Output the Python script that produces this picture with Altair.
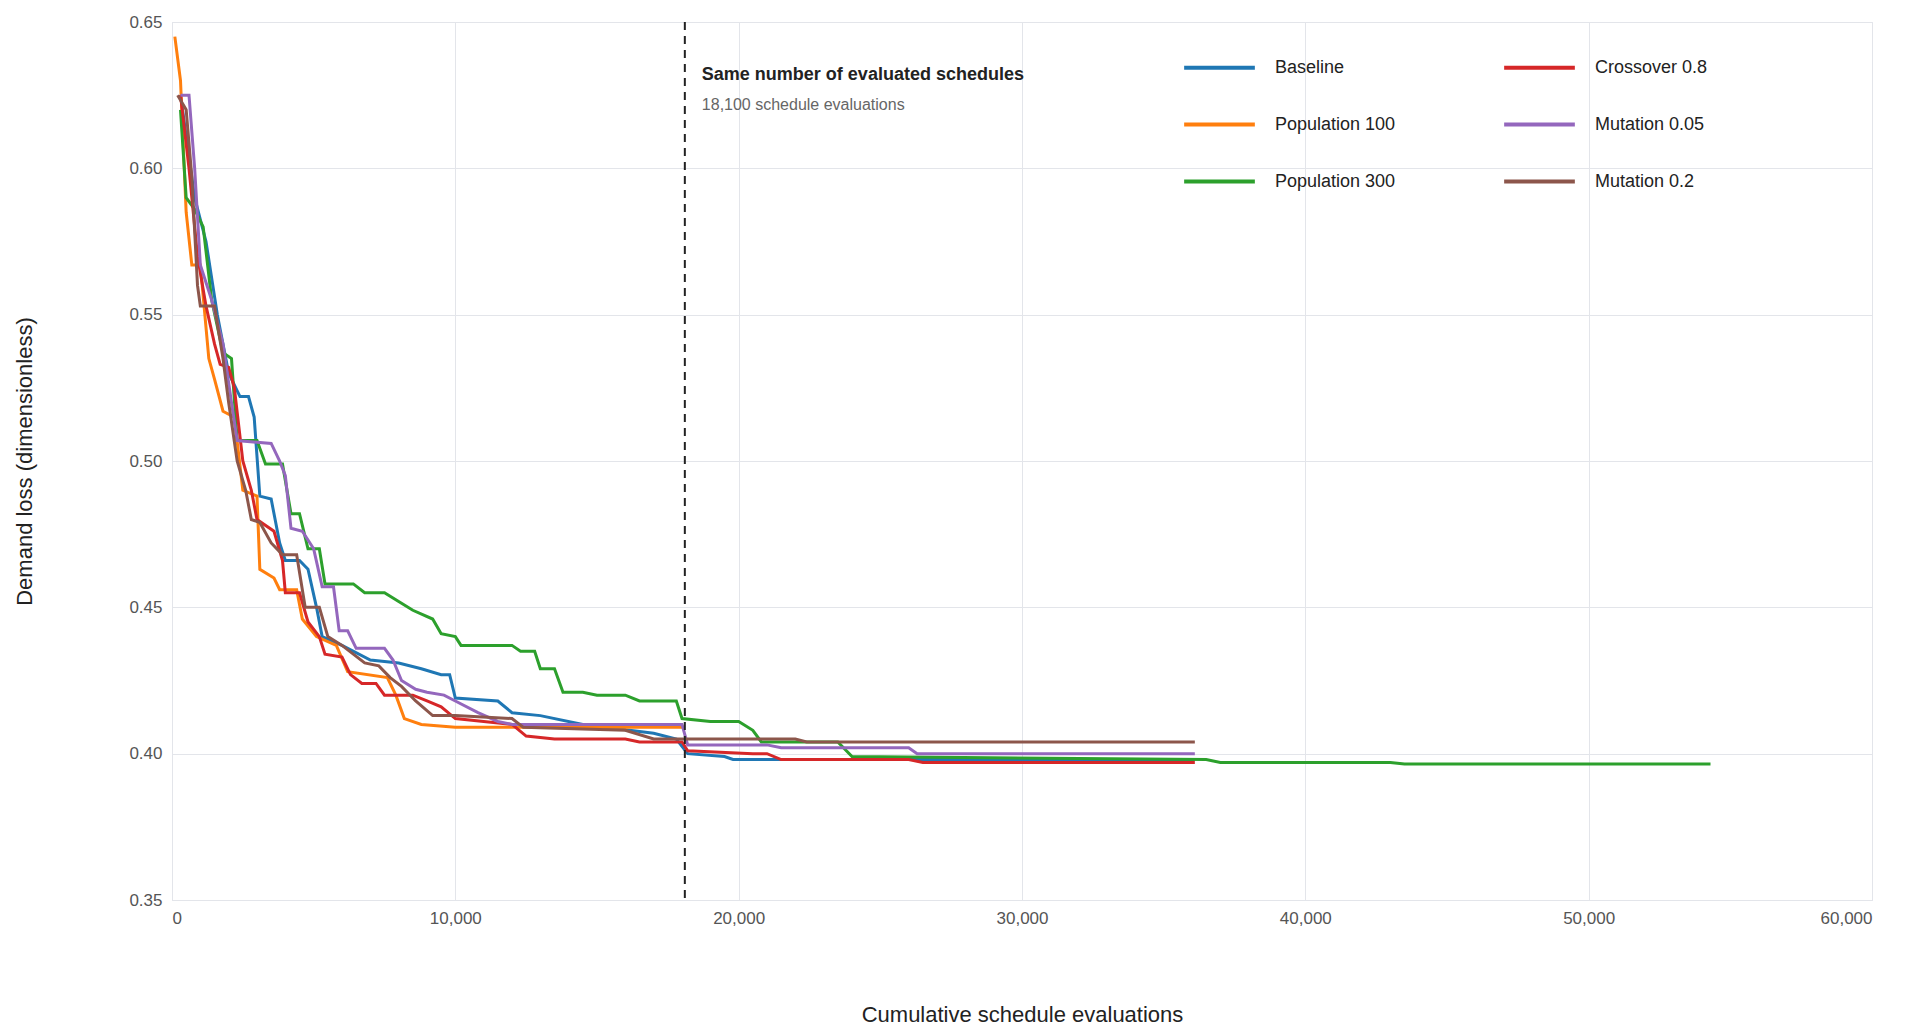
import altair as alt
import pandas as pd

series_names = ["Baseline", "Population 100", "Population 300", "Crossover 0.8", "Mutation 0.05", "Mutation 0.2"]
series_colors = ["#1f77b4", "#ff7f0e", "#2ca02c", "#d62728", "#9467bd", "#8c564b"]

baseline = [(300, 0.625), (800, 0.59), (1200, 0.575), (1600, 0.55), (2000, 0.53), (2400, 0.522), (2700, 0.522),
            (2900, 0.515), (3100, 0.488), (3500, 0.487), (3800, 0.472), (4000, 0.466), (4500, 0.466), (4800, 0.463),
            (5100, 0.45), (5300, 0.44), (6000, 0.437), (7000, 0.432), (8000, 0.431), (8800, 0.429), (9500, 0.427),
            (9800, 0.427), (10000, 0.419), (11500, 0.418), (12000, 0.414), (13000, 0.413), (14500, 0.41),
            (17000, 0.407), (17800, 0.405), (18200, 0.4), (19500, 0.399), (19800, 0.398), (25000, 0.398),
            (36100, 0.398)]
pop100 = [(100, 0.645), (300, 0.63), (500, 0.585), (700, 0.567), (1000, 0.567), (1300, 0.535), (1500, 0.528),
          (1800, 0.517), (2200, 0.515), (2500, 0.49), (3000, 0.488), (3100, 0.463), (3600, 0.46), (3800, 0.456),
          (4400, 0.456), (4600, 0.446), (5100, 0.44), (5800, 0.437), (6200, 0.428), (7600, 0.426), (7900, 0.42),
          (8200, 0.412), (8800, 0.41), (10000, 0.409), (18100, 0.409)]
pop300 = [(300, 0.62), (500, 0.59), (800, 0.586), (1100, 0.58), (1400, 0.555), (1800, 0.537), (2100, 0.535),
          (2300, 0.507), (3000, 0.507), (3300, 0.499), (3900, 0.499), (4200, 0.482), (4500, 0.482), (4800, 0.47),
          (5200, 0.47), (5400, 0.458), (6400, 0.458), (6800, 0.455), (7500, 0.455), (8000, 0.452), (8500, 0.449),
          (9200, 0.446), (9500, 0.441), (10000, 0.44), (10200, 0.437), (12000, 0.437), (12300, 0.435),
          (12800, 0.435), (13000, 0.429), (13500, 0.429), (13800, 0.421), (14500, 0.421), (15000, 0.42),
          (16000, 0.42), (16500, 0.418), (17800, 0.418), (18000, 0.412), (19000, 0.411), (20000, 0.411),
          (20500, 0.408), (20800, 0.404), (23500, 0.404), (24000, 0.399), (36500, 0.398), (37000, 0.397),
          (43000, 0.397), (43500, 0.3965), (54300, 0.3965)]
cross08 = [(300, 0.625), (600, 0.6), (900, 0.57), (1200, 0.553), (1500, 0.54), (1700, 0.533), (2000, 0.532),
           (2200, 0.525), (2500, 0.5), (2800, 0.49), (3000, 0.48), (3600, 0.476), (3900, 0.466), (4000, 0.455),
           (4500, 0.455), (4800, 0.445), (5200, 0.44), (5400, 0.434), (6000, 0.433), (6300, 0.427), (6700, 0.424),
           (7200, 0.424), (7500, 0.42), (8500, 0.42), (9000, 0.418), (9500, 0.416), (10000, 0.412), (11000, 0.411),
           (12000, 0.41), (12500, 0.406), (13500, 0.405), (16000, 0.405), (16500, 0.404), (18000, 0.404),
           (18200, 0.401), (20500, 0.4), (21000, 0.4), (21500, 0.398), (26000, 0.398), (26500, 0.397),
           (36100, 0.397)]
mut005 = [(300, 0.625), (600, 0.625), (800, 0.6), (1000, 0.567), (1400, 0.555), (1800, 0.54), (2100, 0.52),
          (2300, 0.507), (3500, 0.506), (3800, 0.5), (4000, 0.495), (4200, 0.477), (4600, 0.476), (5000, 0.47),
          (5300, 0.457), (5700, 0.457), (5900, 0.442), (6200, 0.442), (6500, 0.436), (7500, 0.436), (7800, 0.432),
          (8100, 0.425), (8600, 0.422), (9000, 0.421), (9600, 0.42), (10000, 0.418), (10800, 0.414),
          (11500, 0.411), (12000, 0.41), (18000, 0.41), (18200, 0.403), (21000, 0.403), (21500, 0.402),
          (26000, 0.402), (26300, 0.4), (36100, 0.4)]
mut02 = [(200, 0.625), (500, 0.62), (700, 0.597), (900, 0.56), (1000, 0.553), (1500, 0.553), (1800, 0.535),
         (2000, 0.52), (2300, 0.5), (2600, 0.49), (2800, 0.48), (3100, 0.479), (3500, 0.472), (3900, 0.468),
         (4400, 0.468), (4700, 0.45), (5200, 0.45), (5500, 0.44), (6000, 0.437), (6800, 0.431), (7300, 0.43),
         (7700, 0.426), (8100, 0.423), (8600, 0.418), (9200, 0.413), (10000, 0.413), (12000, 0.412),
         (12400, 0.409), (16000, 0.408), (17000, 0.405), (18000, 0.405), (22000, 0.405), (22400, 0.404),
         (36100, 0.404)]

marker_x = 18100
note_title = "Same number of evaluated schedules"
note_sub = "18,100 schedule evaluations"

rows = []
for name, pts in zip(series_names, [baseline, pop100, pop300, cross08, mut005, mut02]):
    for i, (x, y) in enumerate(pts):
        rows.append({"series": name, "evals": x, "loss": y, "order": i})
df = pd.DataFrame(rows)

lines = alt.Chart(df).mark_line(strokeWidth=3).encode(
    x=alt.X("evals:Q", title="Cumulative schedule evaluations",
            scale=alt.Scale(domain=[0, 60000], nice=False),
            axis=alt.Axis(format=",d", values=[0, 10000, 20000, 30000, 40000, 50000, 60000],
                          titlePadding=78)),
    y=alt.Y("loss:Q", title="Demand loss (dimensionless)",
            scale=alt.Scale(domain=[0.35, 0.65], nice=False, zero=False),
            axis=alt.Axis(format=".2f", values=[0.35, 0.4, 0.45, 0.5, 0.55, 0.6, 0.65], titlePadding=92)),
    color=alt.Color("series:N", sort=series_names,
                    scale=alt.Scale(domain=series_names, range=series_colors),
                    legend=alt.Legend(title=None, orient="none", legendX=1010, legendY=8, columns=2,
                                      symbolType="stroke", symbolSize=5000, symbolStrokeWidth=4,
                                      labelFontSize=18, labelColor="#222", columnPadding=100,
                                      rowPadding=10, labelOffset=18, labelLimit=300)),
    order="order:Q",
)

rule = alt.Chart(pd.DataFrame({"x": [marker_x]})).mark_rule(
    color="#222", strokeDash=[8, 6], strokeWidth=2).encode(x="x:Q")

notes = pd.DataFrame({"x": [marker_x + 600, marker_x + 600], "y": [0.632, 0.6215],
                      "t": [note_title, note_sub]})
note1 = alt.Chart(notes.iloc[[0]]).mark_text(align="left", fontSize=18, fontWeight="bold", color="#222").encode(
    x="x:Q", y="y:Q", text="t:N")
note2 = alt.Chart(notes.iloc[[1]]).mark_text(align="left", fontSize=16, color="#666").encode(
    x="x:Q", y="y:Q", text="t:N")

chart = alt.layer(lines, rule, note1, note2).properties(width=1700, height=878).configure(
    font="Liberation Sans"
).configure_axis(
    gridColor="#e3e5ea", domainColor="#e3e5ea", ticks=False, labelColor="#555", labelFontSize=17,
    labelPadding=10, titleFontSize=22, titleFontWeight="normal", titleColor="#222"
).configure_view(stroke="#e3e5ea")

chart.save("out.html", embed_options={"renderer": "svg", "actions": False})
